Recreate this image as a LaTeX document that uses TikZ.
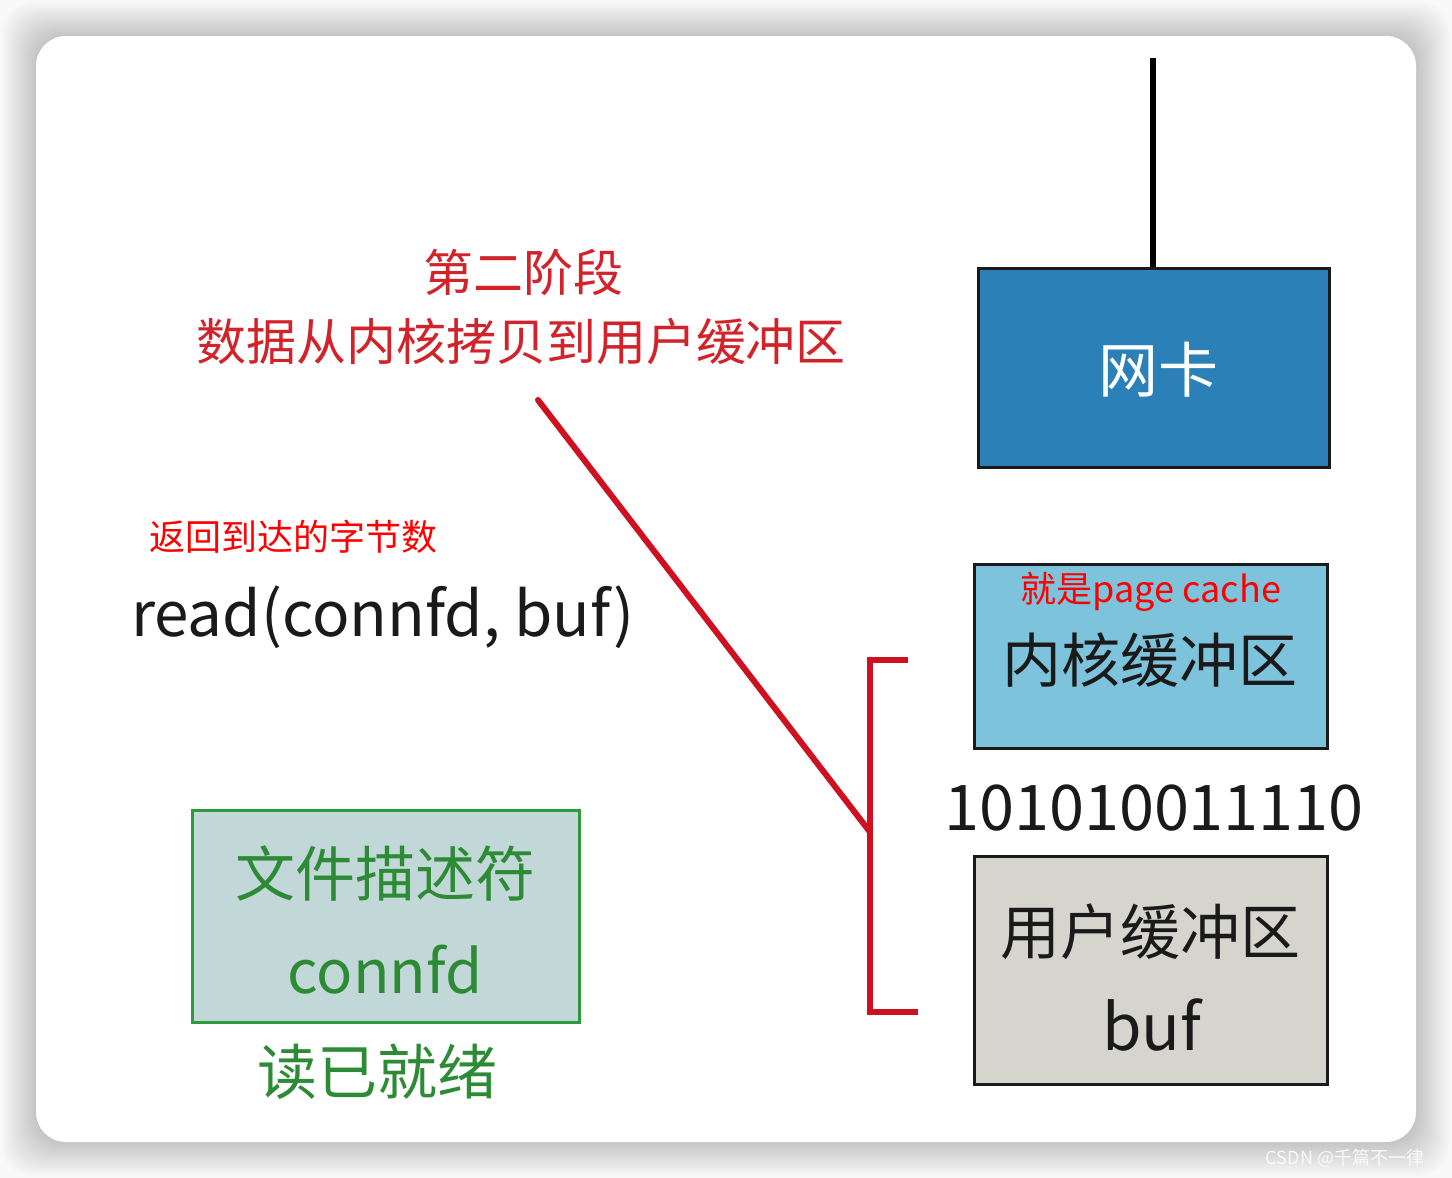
\documentclass[tikz,border=0pt]{standalone}
\usepackage{fontspec}
\setmainfont{Noto Sans CJK SC}
\usetikzlibrary{positioning}
\definecolor{ionicblue}{HTML}{2A80B7}
\definecolor{iokernel}{HTML}{7DC3DB}
\definecolor{iouser}{HTML}{D5D5CE}
\definecolor{iofdfill}{HTML}{C2D7D7}
\definecolor{iogreen}{HTML}{2E9A3C}
\definecolor{iogreentxt}{HTML}{2C8B34}
\definecolor{iostage}{HTML}{D2232B}
\definecolor{ioline}{HTML}{CF1020}
\definecolor{ionote}{HTML}{FF0000}
\definecolor{iodark}{HTML}{1A1A1A}
\newcommand\iofs[1]{\fontsize{#1pt}{#1pt}\selectfont}
\tikzset{
  io/box/.style={draw=iodark, line width=1.5pt, inner sep=0pt},
  io/txt/.style={inner sep=0pt, text=iodark},
  io/red/.style={ioline, line width=3pt},
  io/wire/.style={black, line width=3pt}
}

\begin{document}
\begin{tikzpicture}[x=0.5pt, y=-0.5pt]
  % --- Hintergrund / Karte ---
  \fill[gray!5] (0,0) rectangle (1452,1178);
  \foreach \d in {34,32,...,2}
    \fill[black, opacity=0.01, rounded corners=15pt]
      (36-\d,36-\d) rectangle (1416+\d,1142+\d);
  \fill[white, rounded corners=15pt] (36,36) rectangle (1416,1142);
  \node[inner sep=0pt, text=white!95!gray, font=\iofs{9}] (mark) at (1345,1158) {CSDN @千篇不一律};

  % --- Netzwerkkarte ---
  \coordinate (wiretop) at (1153,58);
  \node[io/box, fill=ionicblue, minimum width=175.5pt, minimum height=99.5pt] (nic) at (1153.5,367.5) {};
  \node[io/txt, text=white, font=\iofs{30}] (nict) at (1158,370) {网卡};
  \draw[io/wire] (wiretop) -- (nic.north -| wiretop);

  % --- Zweite Phase ---
  \node[io/txt, text=iostage, font=\iofs{25}] (stage) at (523,272) {第二阶段};
  \node[io/txt, text=iostage, font=\iofs{25}] (copy) at (521,342) {数据从内核拷贝到用户缓冲区};
  \coordinate (copyend) at (538,400);

  % --- read() ---
  \node[io/txt, text=ionote, font=\iofs{18}] (ret) at (293,537) {返回到达的字节数};
  \node[io/txt, font=\iofs{31}] (read) at (383,617) {read(connfd, buf)};

  % --- Puffer ---
  \node[io/box, fill=iokernel, minimum width=176.5pt, minimum height=92pt] (kbuf) at (1150.5,656) {};
  \node[io/txt, text=ionote, font=\iofs{18}] (pcache) at (1151,592) {就是page cache};
  \node[io/txt, font=\iofs{29.5}] (kbuft) at (1150,660) {内核缓冲区};
  \node[io/txt, font=\iofs{31.5}] (bits) at (1154,808) {101010011110};
  \node[io/box, fill=iouser, minimum width=176.5pt, minimum height=114pt] (ubuf) at (1150.5,970) {};
  \node[io/txt, font=\iofs{30}] (ubuft) at (1150,932) {用户缓冲区};
  \node[io/txt, font=\iofs{32}] (ubufn) at (1152,1025) {buf};

  % --- Klammer ---
  \coordinate (brtop) at (908,660);
  \coordinate (brbot) at (918,1012);
  \coordinate (brmid) at (870,832);
  \draw[io/red] (brtop) -- (870,660) -- (870,1012) -- (brbot);
  \draw[io/red, line cap=round] (copyend) -- (brmid);

  % --- Dateideskriptor ---
  \node[draw=iogreen, line width=1.5pt, fill=iofdfill, inner sep=0pt,
    minimum width=193.5pt, minimum height=106pt] (fd) at (385.5,916) {};
  \node[io/txt, text=iogreentxt, font=\iofs{30}] (fdt) at (385,873) {文件描述符};
  \node[io/txt, text=iogreentxt, font=\iofs{30}] (fdn) at (385,970) {connfd};
  \node[io/txt, text=iogreentxt, font=\iofs{30}] (ready) at (377,1072) {读已就绪};
\end{tikzpicture}
\end{document}
